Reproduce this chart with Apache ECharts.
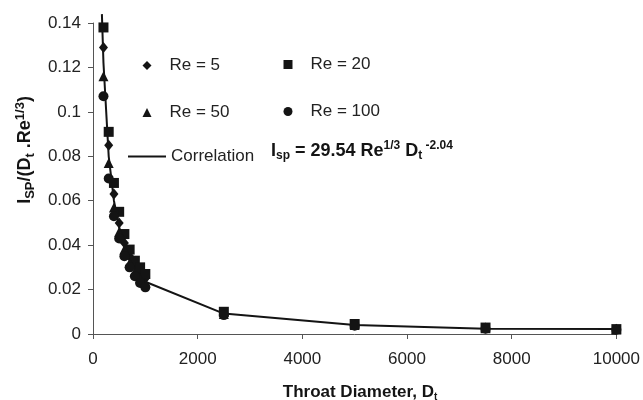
<!DOCTYPE html>
<html>
<head>
<meta charset="utf-8">
<script src="https://cdn.jsdelivr.net/npm/echarts@6/dist/echarts.min.js"></script>
<style>
html,body{margin:0;padding:0;background:#fff;}
#chart{width:643px;height:400px;}
</style>
</head>
<body>
<div id="chart"></div>
<script>
// Throat diameter values (x)
const throatDiameter = [200, 300, 400, 500, 600, 700, 800, 900, 1000, 2500, 5000, 7500, 10000];
// Series values
const re5   = [0.129, 0.085, 0.063, 0.050, 0.041, 0.035, 0.031, 0.027, 0.025, 0.0095, 0.0042, 0.0027, 0.0021];
const re20  = [0.138, 0.091, 0.068, 0.055, 0.045, 0.038, 0.033, 0.030, 0.027, 0.0100, 0.0045, 0.0029, 0.0022];
const re50  = [0.116, 0.077, 0.057, 0.046, 0.038, 0.032, 0.028, 0.025, 0.023, 0.0090, 0.0040, 0.0026, 0.0020];
const re100 = [0.107, 0.070, 0.053, 0.043, 0.035, 0.030, 0.026, 0.023, 0.021, 0.0085, 0.0037, 0.0024, 0.0019];
// Correlation curve
const corrDt  = [170, 200, 300, 400, 500, 600, 700, 800, 900, 1000, 2500, 5000, 7500, 10000];
const corrVal = [0.144, 0.122, 0.080, 0.060, 0.048, 0.040, 0.034, 0.030, 0.026, 0.0235, 0.0092, 0.0040, 0.0024, 0.0022];
// Axis ticks
const xTicks = {min: 0, max: 10000, step: 2000};
const yTicks = {min: 0, max: 0.14, step: 0.02};

const zip = (xs, ys) => xs.map((x, i) => [x, ys[i]]);
const INK = '#141414';
const FONT = 'Liberation Sans, Arial, sans-serif';

const chart = echarts.init(document.getElementById('chart'), null, {renderer: 'canvas'});

function scatter(name, symbol, data, size) {
  return {
    name, type: 'scatter', symbol, symbolSize: size,
    data: zip(throatDiameter, data),
    itemStyle: {color: INK, opacity: 1},
    emphasis: {disabled: true},
    z: 3
  };
}

function legendAt(item, left, top, w, h, padLeft) {
  return {
    data: [item], left, top, padding: 0,
    itemWidth: w, itemHeight: h,
    selectedMode: false,
    itemStyle: {opacity: 1},
    textStyle: {color: '#222', fontFamily: FONT, fontSize: 17, padding: [0, 0, 0, padLeft]}
  };
}

const option = {
  animation: false,
  backgroundColor: '#fff',
  grid: {left: 93, right: 24, top: 23, bottom: 66},
  xAxis: {
    type: 'value', min: xTicks.min, max: xTicks.max, interval: xTicks.step,
    axisLine: {lineStyle: {color: '#555', width: 1}},
    axisTick: {length: 5, lineStyle: {color: '#555'}},
    splitLine: {show: false},
    axisLabel: {color: '#222', fontFamily: FONT, fontSize: 17, margin: 17, formatter: v => String(v)}
  },
  yAxis: {
    type: 'value', min: yTicks.min, max: yTicks.max, interval: yTicks.step,
    axisLine: {show: true, lineStyle: {color: '#555', width: 1}},
    axisTick: {show: true, length: 5, lineStyle: {color: '#555'}},
    splitLine: {show: false},
    axisLabel: {color: '#222', fontFamily: FONT, fontSize: 17, margin: 12}
  },
  legend: [
    legendAt('Re = 5', 142.5, 57, 9, 9, 13),
    legendAt('Re = 20', 283.5, 56, 9, 9, 13),
    legendAt('Re = 50', 142.5, 104, 9, 9, 13),
    legendAt('Re = 100', 283.5, 103, 9, 9, 13),
    legendAt({name: 'Correlation', icon: 'rect'}, 128, 148, 38, 2, 0)
  ],
  series: [
    {
      name: 'Correlation', type: 'line', symbol: 'none', showSymbol: false, clip: false,
      data: zip(corrDt, corrVal),
      lineStyle: {color: INK, width: 2},
      itemStyle: {color: INK},
      emphasis: {disabled: true},
      z: 2
    },
    scatter('Re = 5', 'diamond', re5, [9, 11]),
    scatter('Re = 20', 'rect', re20, 10),
    scatter('Re = 50', 'triangle', re50, 10),
    scatter('Re = 100', 'circle', re100, 10)
  ],
  graphic: [
    {
      type: 'text', left: 271, top: 140,
      style: {
        text: '{b|I}{sub|sp}{b| = 29.54 Re}{sup|1/3}{b| D}{sub|t}{sup| -2.04}',
        fill: INK,
        rich: {
          b: {fontFamily: FONT, fontWeight: 'bold', fontSize: 18, lineHeight: 22, fill: INK},
          sup: {fontFamily: FONT, fontWeight: 'bold', fontSize: 12, lineHeight: 12, verticalAlign: 'top', fill: INK},
          sub: {fontFamily: FONT, fontWeight: 'bold', fontSize: 12, lineHeight: 12, verticalAlign: 'bottom', fill: INK}
        }
      }
    },
    {
      type: 'text', x: 360, y: 392,
      style: {
        text: '{b|Throat Diameter, D}{sub|t}',
        align: 'center', verticalAlign: 'middle',
        fill: INK,
        rich: {
          b: {fontFamily: FONT, fontWeight: 'bold', fontSize: 17, lineHeight: 20, fill: INK},
          sub: {fontFamily: FONT, fontWeight: 'bold', fontSize: 10, lineHeight: 10, verticalAlign: 'bottom', fill: INK}
        }
      }
    },
    {
      type: 'text', x: 25, y: 150, rotation: Math.PI / 2,
      style: {
        text: '{b|I}{sub|SP}{b|/(D}{sub|t}{b| .Re}{sup|1/3}{b|)}',
        align: 'center', verticalAlign: 'middle',
        fill: INK,
        rich: {
          b: {fontFamily: FONT, fontWeight: 'bold', fontSize: 18, lineHeight: 23, fill: INK},
          sup: {fontFamily: FONT, fontWeight: 'bold', fontSize: 13, lineHeight: 13, verticalAlign: 'top', fill: INK},
          sub: {fontFamily: FONT, fontWeight: 'bold', fontSize: 13, lineHeight: 13, verticalAlign: 'bottom', fill: INK}
        }
      }
    }
  ]
};
chart.setOption(option);
</script>
</body>
</html>
